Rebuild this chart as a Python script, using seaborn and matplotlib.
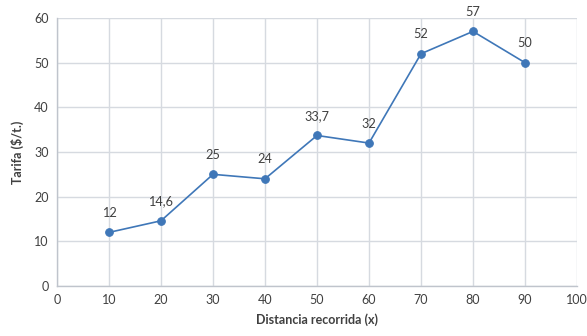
import matplotlib
matplotlib.use("Agg")
import matplotlib.pyplot as plt
import seaborn as sns
import pandas as pd

distancia = [10, 20, 30, 40, 50, 60, 70, 80, 90]
tarifa = [12, 14.6, 25, 24, 33.7, 32, 52, 57, 50]
etiquetas = ["12", "14,6", "25", "24", "33,7", "32", "52", "57", "50"]
x_ticks = [0, 10, 20, 30, 40, 50, 60, 70, 80, 90, 100]
y_ticks = [0, 10, 20, 30, 40, 50, 60]

sns.set_theme(style="white")
plt.rcParams['font.family'] = ['Lato', 'DejaVu Sans']

df = pd.DataFrame({"x": distancia, "y": tarifa})

fig = plt.figure(figsize=(5.87, 3.36), dpi=100)
ax = fig.add_axes([57/587, 50/336, 520/587, 268/336])

color = "#3F77B8"
sns.lineplot(data=df, x="x", y="y", ax=ax, color=color, linewidth=1.2,
             marker="o", markersize=5.5, markeredgecolor=color, zorder=3)

for xv, yv, lab in zip(distancia, tarifa, etiquetas):
    ax.annotate(lab, (xv, yv), xytext=(0, 14), textcoords="offset points",
                ha="center", va="center", fontsize=9.2, color="#404040")

ax.set_xlim(0, 100)
ax.set_ylim(0, 60)
ax.set_xticks(x_ticks)
ax.set_yticks(y_ticks)
ax.grid(True, color="#D6DAE0", linewidth=1)
for s in ["top", "right"]:
    ax.spines[s].set_visible(False)
for s in ["left", "bottom"]:
    ax.spines[s].set_color("#BFC4CC")
    ax.spines[s].set_linewidth(1)
ax.tick_params(axis="both", length=0, labelsize=9, colors="#404040", pad=6)
ax.set_xlabel("Distancia recorrida (x)", fontsize=9, fontweight="bold", color="#404040", labelpad=5)
ax.set_ylabel("Tarifa ($/t.)", fontsize=9, fontweight="bold", color="#404040", labelpad=7)

fig.savefig("out.png", dpi=100)
